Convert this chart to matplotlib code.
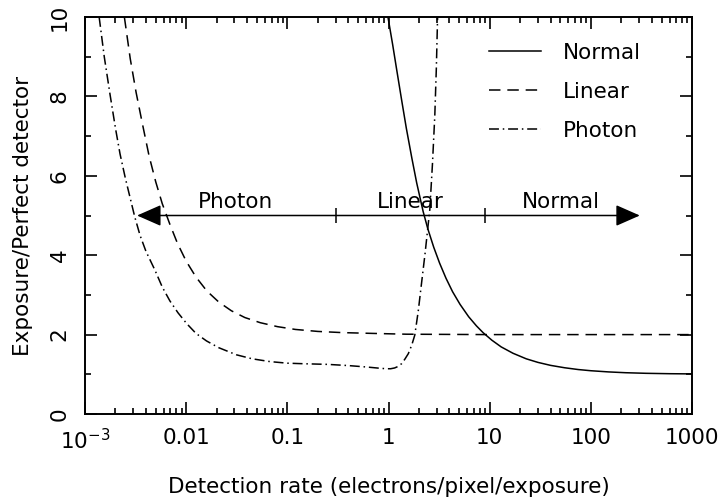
import numpy as np
import matplotlib
matplotlib.use("Agg")
import matplotlib.pyplot as plt

# curves (x = detection rate, y = exposure / perfect detector)
normal_x = [0.98, 1.1, 1.2, 1.35, 1.5, 1.7, 1.9, 2.2, 2.45, 2.8, 3.2, 3.7, 4.3, 5.1, 6.2, 7.4, 8.6,
            10.5, 13, 17, 23, 30, 40, 55, 75, 100, 150, 220, 350, 600, 1000]
normal_y = [10.05, 9.3, 8.7, 7.9, 7.2, 6.45, 5.82, 5.1, 4.66, 4.2, 3.8, 3.42, 3.08, 2.76, 2.45, 2.22, 2.05,
            1.86, 1.69, 1.53, 1.39, 1.30, 1.225, 1.165, 1.12, 1.09, 1.06, 1.04, 1.025, 1.015, 1.01]

linear_x = [0.00245, 0.0028, 0.0032, 0.0037, 0.0043, 0.005, 0.0058, 0.0069, 0.0082, 0.0100, 0.0125,
            0.016, 0.021, 0.028, 0.038, 0.054, 0.08, 0.12, 0.2, 0.35, 0.7, 1.5, 10, 1000]
linear_y = [10.0, 8.95, 8.1, 7.3, 6.5, 5.85, 5.3, 4.78, 4.3, 3.85, 3.45,
            3.1, 2.82, 2.6, 2.43, 2.3, 2.2, 2.13, 2.08, 2.05, 2.03, 2.01, 2.0, 2.0]

photon_x = [0.00138, 0.00155, 0.00177, 0.002, 0.00222, 0.0025, 0.00279, 0.0031, 0.0035, 0.004, 0.00492,
            0.0058, 0.0069, 0.0083, 0.0101, 0.0125, 0.0159, 0.021, 0.0315, 0.045, 0.0673, 0.1, 0.15,
            0.25, 0.4, 0.6, 0.8, 0.95, 1.05, 1.15, 1.25, 1.35, 1.45, 1.57, 1.7, 1.82, 1.97, 2.12,
            2.3, 2.45, 2.56, 2.72, 2.87, 2.97, 3.06]
photon_y = [10.0, 9.0, 8.04, 7.2, 6.55, 5.95, 5.45, 4.97, 4.5, 4.1, 3.62,
            3.2, 2.85, 2.55, 2.28, 2.03, 1.84, 1.67, 1.49, 1.39, 1.32, 1.28, 1.265,
            1.25, 1.22, 1.185, 1.155, 1.14, 1.14, 1.16, 1.2, 1.27, 1.38, 1.52, 1.74, 1.99, 2.6, 3.29,
            4.05, 4.7, 5.15, 6.3, 7.53, 8.7, 10.05]

# regime arrow
arrow_x = [0.00327, 305]
arrow_y = 5
region_bounds = [0.3, 9]
region_names = ["Photon", "Linear", "Normal"]
region_label_x = [0.0307, 1.64, 50]

xticks = [1e-3, 1e-2, 1e-1, 1, 10, 100, 1000]
xticklabels = ["$10^{-3}$", "0.01", "0.1", "1", "10", "100", "1000"]

plt.rcParams["font.family"] = ["DejaVu Sans"]
plt.rcParams["mathtext.fontset"] = "dejavusans"
fs = 15.5

fig = plt.figure(figsize=(7.23, 5.03), dpi=100)
ax = fig.add_axes([85 / 723, 1 - 414 / 503, 607 / 723, 397 / 503])

lw = 1.1
ax.plot(normal_x, normal_y, color="k", lw=lw, label="Normal")
ax.plot(linear_x, linear_y, color="k", lw=lw, dashes=(7.5, 4.5), label="Linear")
ax.plot(photon_x, photon_y, color="k", lw=lw, dashes=(6.5, 2.5, 1, 2.5), label="Photon")

ax.annotate("", xy=(arrow_x[1], arrow_y), xytext=(arrow_x[0], arrow_y),
            arrowprops=dict(arrowstyle="<|-|>,head_length=0.75,head_width=0.33",
                            color="k", lw=1.1, shrinkA=0, shrinkB=0, mutation_scale=20))
ax.vlines(region_bounds, arrow_y - 0.2, arrow_y + 0.2, color="k", lw=1.1)
for name, xpos in zip(region_names, region_label_x):
    ax.text(xpos, arrow_y + 0.2, name, ha="center", va="baseline", fontsize=fs)

ax.set_xscale("log")
ax.set_xlim(1e-3, 1000)
ax.set_ylim(0, 10)
ax.set_xticks(xticks)
ax.set_xticklabels(xticklabels)
ax.set_yticks([0, 2, 4, 6, 8, 10])
ax.set_yticks([1, 3, 5, 7, 9], minor=True)

ax.tick_params(which="both", direction="in", top=True, right=True, width=1.2, labelsize=fs)
ax.tick_params(which="major", length=8.5)
ax.tick_params(which="minor", length=4.3)
ax.tick_params(axis="x", pad=10)
ax.tick_params(axis="y", pad=11, labelrotation=90)
for lab in ax.get_yticklabels():
    lab.set_va("center")
for sp in ax.spines.values():
    sp.set_linewidth(1.4)

ax.set_xlabel("Detection rate (electrons/pixel/exposure)", fontsize=fs, labelpad=17)
ax.set_ylabel("Exposure/Perfect detector", fontsize=fs, labelpad=12)

ax.legend(loc="upper left", bbox_to_anchor=(0.666, 0.935), frameon=False, fontsize=fs,
          handlelength=2.4, handletextpad=1.0, labelspacing=0.88, borderpad=0, borderaxespad=0)

plt.savefig("out.png", dpi=100)
